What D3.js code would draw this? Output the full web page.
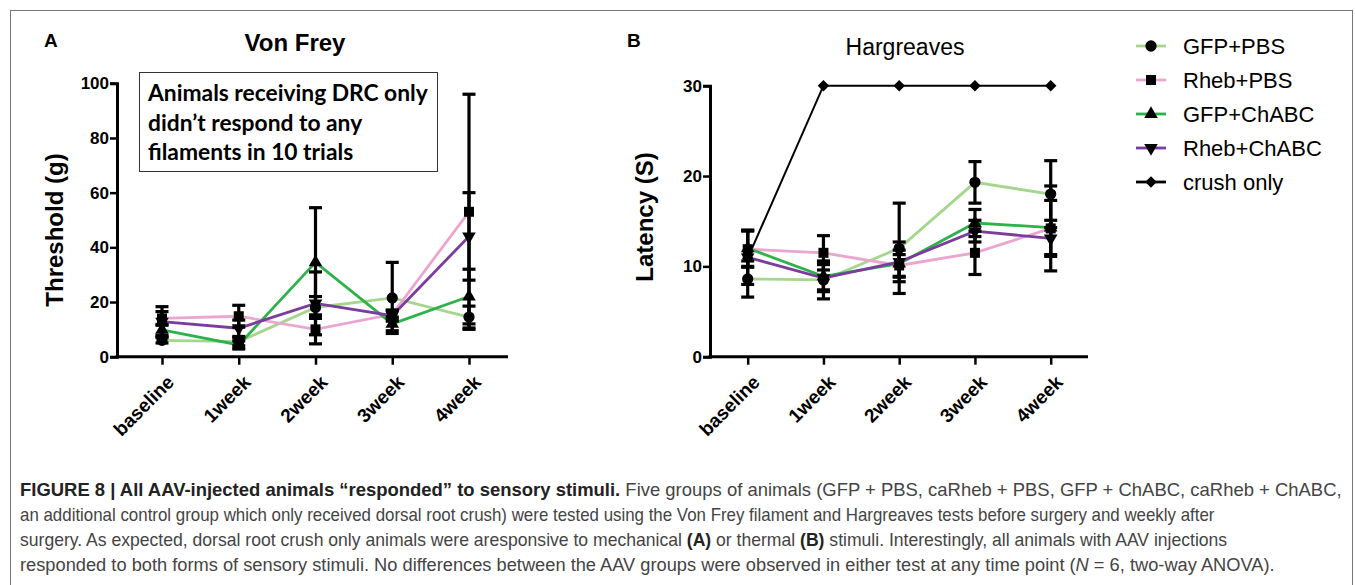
<!DOCTYPE html>
<html>
<head>
<meta charset="utf-8">
<script src="https://cdn.jsdelivr.net/npm/d3@7"></script>
<style>
  body { margin: 0; background: #fff; }
  svg { display: block; }
</style>
</head>
<body>
<svg id="fig" width="1355" height="585"></svg>
<script>
// time points and groups
const categories = ["baseline", "1week", "2week", "3week", "4week"];
const groups = ["GFP+PBS", "Rheb+PBS", "GFP+ChABC", "Rheb+ChABC", "crush only"];
const groupColors = ["#a5d68d", "#eaa6cf", "#2db24b", "#7b3c9e", "#000000"];

// Von Frey threshold (g), mean and SEM
const vfGfpPbs = [6, 5.5, 18, 21.5, 14.5];
const vfGfpPbsErr = [1, 1.5, 4, 13, 4];
const vfRhebPbs = [14, 14.8, 10, 15.5, 53];
const vfRhebPbsErr = [2.5, 4, 5.3, 1.5, 43];
const vfGfpChabc = [9.8, 4.3, 34.5, 12, 22];
const vfGfpChabcErr = [2, 1.5, 20, 2.5, 10];
const vfRhebChabc = [12.8, 10.4, 19.5, 15, 44];
const vfRhebChabcErr = [5.5, 3, 11.5, 2, 16];

// Hargreaves latency (s), mean and SEM
const hgGfpPbs = [8.6, 8.5, 12, 19.3, 18];
const hgGfpPbsErr = [2, 2.1, 5, 2.3, 3.7];
const hgRhebPbs = [11.9, 11.5, 10.1, 11.5, 14.2];
const hgRhebPbsErr = [2, 1.9, 1.2, 2.4, 4.7];
const hgGfpChabc = [12, 8.9, 10.3, 14.8, 14.3];
const hgGfpChabcErr = [2, 1.5, 1.5, 1.5, 3];
const hgRhebChabc = [11, 8.7, 10.5, 13.9, 13.1];
const hgRhebChabcErr = [3, 1.5, 2.2, 1.2, 2];
const hgCrush = [10.9, 30, 30, 30, 30];
const hgCrushErr = [0, 0, 0, 0, 0];

const vfTicks = [0, 20, 40, 60, 80, 100];
const hgTicks = [0, 10, 20, 30];

const svg = d3.select("#fig");

// figure frame
svg.append("rect")
  .attr("x", 10.5).attr("y", 10.5)
  .attr("width", 1342).attr("height", 600)
  .attr("fill", "none").attr("stroke", "#777").attr("stroke-width", 1);

function markerPath(i, size) {
  if (i == 0) return d3.symbol(d3.symbolCircle, size * 1.0)();
  if (i == 1) return d3.symbol(d3.symbolSquare, size)();
  if (i == 2) return d3.symbol(d3.symbolTriangle, size * 0.8)();
  if (i == 3) return d3.symbol(d3.symbolTriangle, size * 0.8)();
  return d3.symbol(d3.symbolSquare, size * 0.66)();
}
function markerRotate(i) {
  if (i == 3) return " rotate(180)";
  if (i == 4) return " rotate(45)";
  return "";
}

function drawPanel(opt) {
  const self = opt;
  const g = svg.append("g");

  const x = d3.scalePoint().domain(categories).range(self.xRange);
  const y = d3.scaleLinear().domain(self.yDomain).range(self.yRange);

  // y axis
  const ya = g.append("g")
    .attr("transform", "translate(" + self.axisX + ",0)")
    .call(d3.axisLeft(y).tickValues(self.ticks).tickSizeOuter(0).tickSize(7));
  ya.select(".domain").attr("stroke-width", 3);
  ya.selectAll(".tick line").attr("stroke-width", 2.5);
  ya.selectAll("text")
    .attr("font-family", "Liberation Sans, Arial, sans-serif")
    .attr("font-weight", "bold").attr("font-size", "17px").attr("fill", "#000")
    .attr("x", -8);

  // x axis
  const xa = g.append("g")
    .attr("transform", "translate(0," + self.yRange[0] + ")")
    .call(d3.axisBottom(x).tickSizeOuter(0).tickSize(8));
  xa.select(".domain").remove();
  xa.selectAll(".tick line").attr("stroke-width", 2.5);
  xa.selectAll("text")
    .attr("font-family", "Liberation Sans, Arial, sans-serif")
    .attr("font-weight", "bold").attr("font-size", "19px").attr("fill", "#000")
    .attr("text-anchor", "end")
    .attr("y", 0).attr("dy", "0.35em")
    .attr("transform", "translate(8,22) rotate(-45)");
  g.append("line")
    .attr("x1", self.axisX - 1.5).attr("x2", self.axisEnd)
    .attr("y1", self.yRange[0]).attr("y2", self.yRange[0])
    .attr("stroke", "#000").attr("stroke-width", 3);

  // y label
  g.append("text")
    .attr("transform", "translate(" + self.labelX + "," + self.labelY + ") rotate(-90)")
    .attr("text-anchor", "middle")
    .attr("font-family", "Liberation Sans, Arial, sans-serif")
    .attr("font-weight", "bold").attr("font-size", "24px")
    .text(self.yLabel);

  // title and panel letter
  g.append("text")
    .attr("x", self.titleX).attr("y", self.titleY)
    .attr("text-anchor", "middle")
    .attr("font-family", "Liberation Sans, Arial, sans-serif")
    .attr("font-weight", self.titleWeight).attr("font-size", self.titleSize)
    .text(self.title);
  g.append("text")
    .attr("x", self.letterX).attr("y", 47)
    .attr("font-family", "Liberation Sans, Arial, sans-serif")
    .attr("font-weight", "bold").attr("font-size", "19px")
    .text(self.letter);

  const line = d3.line()
    .x(function(d, i) { return x(categories[i]); })
    .y(function(d) { return y(d); });

  // lines
  self.series.forEach(function(s) {
    g.append("path")
      .attr("d", line(s.values))
      .attr("fill", "none")
      .attr("stroke", groupColors[s.group])
      .attr("stroke-width", s.group == 4 ? 2 : 2.8);
  });

  // error bars + markers, black
  self.series.forEach(function(s) {
    const eb = g.append("g");
    s.values.forEach(function(v, i) {
      const e = s.errors[i];
      if (!e) return;
      const cx = x(categories[i]);
      eb.append("line")
        .attr("x1", cx).attr("x2", cx)
        .attr("y1", y(v - e)).attr("y2", y(v + e))
        .attr("stroke", "#000").attr("stroke-width", 3.2);
      [v - e, v + e].forEach(function(t) {
        eb.append("line")
          .attr("x1", cx - 6.5).attr("x2", cx + 6.5)
          .attr("y1", y(t)).attr("y2", y(t))
          .attr("stroke", "#000").attr("stroke-width", 3.2);
      });
    });
    g.selectAll(null)
      .data(s.values)
      .enter()
      .append("path")
      .attr("d", markerPath(s.group, 100))
      .attr("fill", "#000")
      .attr("transform", function(d, i) {
        return "translate(" + x(categories[i]) + "," + y(d) + ")" + markerRotate(s.group);
      });
  });
  return g;
}

// Panel A
const panelA = drawPanel({
  xRange: [162, 469], yDomain: [0, 100], yRange: [356.7, 83.3],
  axisX: 117, axisEnd: 508, ticks: vfTicks,
  yLabel: "Threshold (g)", labelX: 63, labelY: 230,
  title: "Von Frey", titleX: 295, titleY: 51, titleWeight: "bold", titleSize: "24px",
  letter: "A", letterX: 44,
  series: [
    { group: 0, values: vfGfpPbs, errors: vfGfpPbsErr },
    { group: 1, values: vfRhebPbs, errors: vfRhebPbsErr },
    { group: 2, values: vfGfpChabc, errors: vfGfpChabcErr },
    { group: 3, values: vfRhebChabc, errors: vfRhebChabcErr }
  ]
});

// note box
panelA.append("rect")
  .attr("x", 139.5).attr("y", 72.5).attr("width", 298).attr("height", 99)
  .attr("fill", "#fff").attr("stroke", "#333").attr("stroke-width", 1);
const noteLines = ["Animals receiving DRC only", "didn\u2019t respond to any", "filaments in 10 trials"];
const note = panelA.append("g");
noteLines.forEach(function(t, i) {
  note.append("text")
    .attr("x", 0).attr("y", 101.5 + i * 29.3)
    .attr("font-family", "Lato, Open Sans, sans-serif")
    .attr("font-weight", "bold").attr("font-size", "23px")
    .text(t);
});
{
  const w = note.select("text").node().getComputedTextLength();
  const sx = 280 / w;
  note.attr("transform", "translate(148,0) scale(" + sx + ",1)");
}

// Panel B
drawPanel({
  xRange: [747.7, 1050.7], yDomain: [0, 30], yRange: [356.7, 85.7],
  axisX: 710, axisEnd: 1088, ticks: hgTicks,
  yLabel: "Latency (S)", labelX: 653, labelY: 217,
  title: "Hargreaves", titleX: 905, titleY: 55, titleWeight: "normal", titleSize: "23px",
  letter: "B", letterX: 627,
  series: [
    { group: 4, values: hgCrush, errors: hgCrushErr },
    { group: 0, values: hgGfpPbs, errors: hgGfpPbsErr },
    { group: 1, values: hgRhebPbs, errors: hgRhebPbsErr },
    { group: 2, values: hgGfpChabc, errors: hgGfpChabcErr },
    { group: 3, values: hgRhebChabc, errors: hgRhebChabcErr }
  ]
});

// legend
const legend = svg.append("g");
groups.forEach(function(name, i) {
  const ly = 46 + i * 34;
  legend.append("line")
    .attr("x1", 1136).attr("x2", 1166).attr("y1", ly).attr("y2", ly)
    .attr("stroke", groupColors[i]).attr("stroke-width", 2.8);
  legend.append("path")
    .attr("d", markerPath(i, 100))
    .attr("fill", "#000")
    .attr("transform", "translate(1151," + ly + ")" + markerRotate(i));
  legend.append("text")
    .attr("x", 1183).attr("y", ly + 8)
    .attr("font-family", "Liberation Sans, Arial, sans-serif")
    .attr("font-size", "22px")
    .text(name);
});

// caption
const caption = [
  [["b", "FIGURE 8 | All AAV-injected animals \u201cresponded\u201d to sensory stimuli."], ["", " Five groups of animals (GFP + PBS, caRheb + PBS, GFP + ChABC, caRheb + ChABC,"]],
  [["", "an additional control group which only received dorsal root crush) were tested using the Von Frey filament and Hargreaves tests before surgery and weekly after"]],
  [["", "surgery. As expected, dorsal root crush only animals were aresponsive to mechanical "], ["b", "(A)"], ["", " or thermal "], ["b", "(B)"], ["", " stimuli. Interestingly, all animals with AAV injections"]],
  [["", "responded to both forms of sensory stimuli. No differences between the AAV groups were observed in either test at any time point ("], ["i", "N"], ["", " = 6, two-way ANOVA)."]]
];
const captionWidths = [1323, 1196, 1208, 1255];
caption.forEach(function(parts, li) {
  const cg = svg.append("g");
  const t = cg.append("text")
    .attr("x", 0).attr("y", 0)
    .attr("font-family", "Liberation Sans, Arial, sans-serif")
    .attr("font-size", "18px").attr("fill", "#444");
  parts.forEach(function(p) {
    const ts = t.append("tspan").text(p[1]);
    if (p[0] == "b") ts.attr("font-weight", "bold").attr("fill", "#222");
    if (p[0] == "i") ts.attr("font-style", "italic");
  });
  const w = t.node().getComputedTextLength();
  cg.attr("transform", "translate(20," + (496 + li * 25) + ") scale(" + (captionWidths[li] / w) + ",1)");
});
</script>
</body>
</html>
